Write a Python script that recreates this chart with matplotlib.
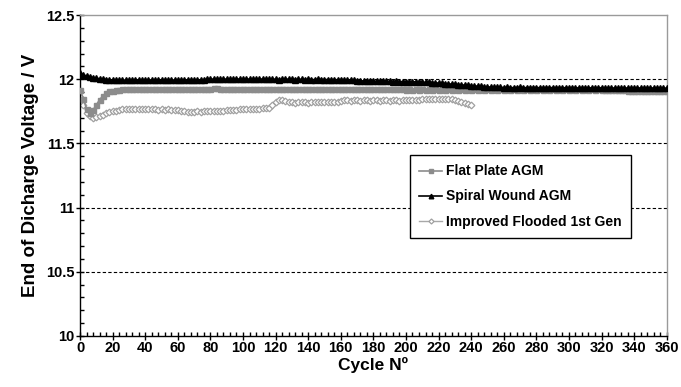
import numpy as np
from matplotlib import pyplot as plt
from matplotlib.ticker import MultipleLocator

plt.rcParams['font.family'] = ['Liberation Sans', 'DejaVu Sans']
plt.rcParams['font.weight'] = 'bold'

# end of discharge voltage, one reading every 2 cycles
cycles_agm = np.arange(0, 362, 2)
cycles_flooded = np.arange(0, 242, 2)

spiral_wound = [
    12.045, 12.035, 12.025, 12.018, 12.012, 12.008, 12.004, 12.001, 11.998, 11.996,
    11.995, 11.994, 11.993, 11.994, 11.992, 11.993, 11.994, 11.993, 11.992, 11.993,
    11.993, 11.994, 11.993, 11.992, 11.993, 11.994, 11.993, 11.992, 11.993, 11.994,
    11.993, 11.992, 11.993, 11.994, 11.993, 11.992, 11.994, 11.993, 11.996, 12.000,
    12.002, 12.000, 11.999, 12.001, 12.002, 12.000, 11.999, 12.001, 12.003, 12.001,
    12.000, 12.002, 12.001, 11.999, 12.000, 12.002, 12.001, 12.000, 11.999, 12.001,
    12.000, 11.998, 11.999, 12.001, 12.000, 11.999, 11.998, 12.000, 11.999, 11.998,
    11.999, 11.998, 11.997, 11.999, 11.998, 11.997, 11.998, 11.996, 11.997, 11.996,
    11.997, 11.996, 11.995, 11.996, 11.994, 11.990, 11.988, 11.987, 11.986, 11.985,
    11.985, 11.984, 11.985, 11.983, 11.984, 11.983, 11.982, 11.983, 11.981, 11.982,
    11.981, 11.980, 11.981, 11.979, 11.978, 11.977, 11.976, 11.975, 11.973, 11.972,
    11.970, 11.968, 11.966, 11.964, 11.962, 11.960, 11.958, 11.956, 11.954, 11.952,
    11.950, 11.948, 11.946, 11.944, 11.942, 11.940, 11.939, 11.938, 11.937, 11.936,
    11.935, 11.936, 11.935, 11.934, 11.935, 11.936, 11.935, 11.934, 11.935, 11.934,
    11.935, 11.934, 11.933, 11.934, 11.935, 11.934, 11.933, 11.934, 11.933, 11.934,
    11.933, 11.934, 11.933, 11.932, 11.933, 11.934, 11.933, 11.932, 11.933, 11.932,
    11.933, 11.932, 11.933, 11.932, 11.931, 11.932, 11.933, 11.932, 11.931, 11.932,
    11.932, 11.931, 11.932, 11.931, 11.932, 11.931, 11.932, 11.931, 11.930, 11.931,
    11.930,
]

flat_plate = [
    11.920, 11.850, 11.770, 11.740, 11.760, 11.800, 11.840, 11.870, 11.890, 11.905,
    11.910, 11.915, 11.920, 11.921, 11.922, 11.922, 11.923, 11.922, 11.923, 11.922,
    11.923, 11.922, 11.923, 11.924, 11.923, 11.922, 11.923, 11.922, 11.923, 11.924,
    11.923, 11.922, 11.923, 11.922, 11.923, 11.922, 11.923, 11.924, 11.923, 11.922,
    11.923, 11.930, 11.928, 11.923, 11.922, 11.923, 11.922, 11.923, 11.922, 11.923,
    11.922, 11.923, 11.922, 11.923, 11.922, 11.923, 11.922, 11.923, 11.922, 11.923,
    11.922, 11.923, 11.922, 11.923, 11.922, 11.923, 11.922, 11.921, 11.922, 11.921,
    11.922, 11.921, 11.922, 11.921, 11.922, 11.921, 11.922, 11.921, 11.922, 11.921,
    11.922, 11.921, 11.922, 11.921, 11.922, 11.921, 11.922, 11.921, 11.922, 11.921,
    11.922, 11.921, 11.922, 11.921, 11.922, 11.921, 11.922, 11.921, 11.922, 11.921,
    11.920, 11.921, 11.920, 11.921, 11.920, 11.921, 11.920, 11.921, 11.920, 11.921,
    11.920, 11.921, 11.920, 11.921, 11.920, 11.921, 11.920, 11.921, 11.920, 11.921,
    11.920, 11.921, 11.920, 11.921, 11.920, 11.921, 11.920, 11.921, 11.920, 11.921,
    11.920, 11.921, 11.920, 11.921, 11.920, 11.921, 11.920, 11.921, 11.920, 11.921,
    11.920, 11.921, 11.920, 11.921, 11.920, 11.921, 11.920, 11.921, 11.920, 11.921,
    11.920, 11.921, 11.920, 11.921, 11.920, 11.921, 11.920, 11.921, 11.920, 11.921,
    11.920, 11.919, 11.918, 11.917, 11.916, 11.915, 11.914, 11.913, 11.912, 11.912,
    11.911, 11.912, 11.911, 11.912, 11.911, 11.910, 11.911, 11.910, 11.911, 11.910,
    11.910,
]

improved_flooded = [
    11.860, 11.800, 11.740, 11.710, 11.700, 11.705, 11.715, 11.725, 11.735, 11.745,
    11.750, 11.755, 11.760, 11.765, 11.768, 11.766, 11.768, 11.765, 11.767, 11.766,
    11.768, 11.765, 11.767, 11.766, 11.764, 11.765, 11.763, 11.766, 11.764, 11.762,
    11.758, 11.754, 11.750, 11.748, 11.745, 11.747, 11.750, 11.748, 11.752, 11.750,
    11.753, 11.751, 11.754, 11.752, 11.755, 11.757, 11.760, 11.762, 11.764, 11.766,
    11.768, 11.767, 11.770, 11.769, 11.772, 11.771, 11.773, 11.775, 11.774, 11.800,
    11.820, 11.835, 11.840, 11.830, 11.822, 11.820, 11.818, 11.820, 11.822, 11.820,
    11.818, 11.820, 11.822, 11.821, 11.820, 11.822, 11.820, 11.821, 11.822, 11.820,
    11.834, 11.836, 11.835, 11.834, 11.836, 11.835, 11.834, 11.836, 11.835, 11.834,
    11.836, 11.835, 11.834, 11.836, 11.835, 11.834, 11.836, 11.835, 11.834, 11.836,
    11.835, 11.836, 11.838, 11.840, 11.842, 11.844, 11.845, 11.846, 11.845, 11.847,
    11.846, 11.845, 11.846, 11.845, 11.843, 11.840, 11.832, 11.822, 11.812, 11.806,
    11.800,
]

fig = plt.figure(figsize=(6.81, 3.87), dpi=100)
ax = fig.add_axes([0.1175, 0.132, 0.8615, 0.829])

ax.plot(cycles_agm, flat_plate, color='#8c8c8c', lw=1.2, marker='s', ms=3.6,
        mec='#8c8c8c', mfc='#8c8c8c', label='Flat Plate AGM', zorder=3)
ax.plot(cycles_agm, spiral_wound, color='black', lw=1.2, marker='^', ms=4.4,
        mec='black', mfc='black', label='Spiral Wound AGM', zorder=4)
ax.plot(cycles_flooded, improved_flooded, color='#a8a8a8', lw=1, marker='D', ms=3.4,
        mec='#a0a0a0', mfc='white', mew=0.9, label='Improved Flooded 1st Gen', zorder=2)

ax.set_xlim(0, 360)
ax.set_ylim(10, 12.5)
ax.xaxis.set_major_locator(MultipleLocator(20))
ax.xaxis.set_minor_locator(MultipleLocator(4))
ax.yaxis.set_minor_locator(MultipleLocator(0.1))
ax.set_yticks([10, 10.5, 11, 11.5, 12, 12.5])
ax.set_yticklabels(['10', '10.5', '11', '11.5', '12', '12.5'])

ax.tick_params(axis='both', which='major', direction='inout', length=6, width=1,
               labelsize=10.5, pad=1, top=False, right=False)
ax.tick_params(axis='both', which='minor', direction='in', length=3, width=1,
               top=False, right=False)
for lab in ax.get_xticklabels() + ax.get_yticklabels():
    lab.set_fontweight('bold')

for v in [10.5, 11, 11.5, 12]:
    ax.axhline(v, color='black', lw=0.8, ls=(0, (3, 2)), zorder=1)

ax.spines['left'].set_color('black')
ax.spines['bottom'].set_color('black')
ax.spines['top'].set_color('#9a9a9a')
ax.spines['right'].set_color('#9a9a9a')
for s in ax.spines.values():
    s.set_linewidth(1)

ax.set_xlabel('Cycle Nº', fontsize=12.5, fontweight='bold', labelpad=1)
ax.set_ylabel('End of Dicharge Voltage / V', fontsize=13.5, fontweight='bold', labelpad=5)

leg = ax.legend(loc='upper left', bbox_to_anchor=(0.562, 0.565), fancybox=False,
                edgecolor='black', fontsize=10, handlelength=1.6, handletextpad=0.3,
                labelspacing=0.8, borderpad=0.7, borderaxespad=0, framealpha=1,
                markerscale=0.75)
leg.get_frame().set_linewidth(1)
for t in leg.get_texts():
    t.set_fontweight('bold')

fig.savefig('out.png', dpi=100)
